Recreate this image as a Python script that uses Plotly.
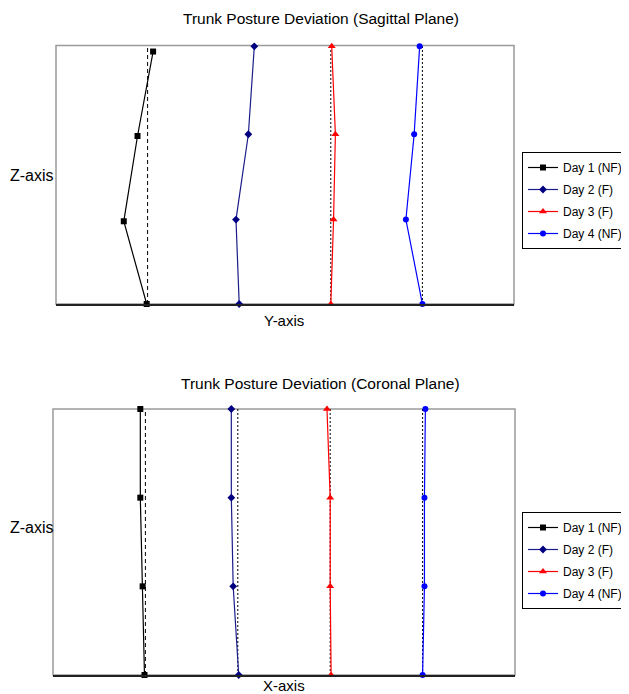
import plotly.graph_objects as go

# ---------------- data ----------------
series_names = ["Day 1 (NF)", "Day 2 (F)", "Day 3 (F)", "Day 4 (NF)"]

# Sagittal plane (top): lateral position (Y-axis) at each Z level, bottom -> top
sag_z_day1 = [0.0, 0.96, 1.95, 2.93]
sag_z = [0.0, 0.98, 1.97, 2.99]
sag_day1 = [0.99, 0.74, 0.89, 1.06]
sag_day2 = [2.00, 1.965, 2.10, 2.165]
sag_day3 = [3.00, 3.03, 3.05, 3.01]
sag_day4 = [4.00, 3.82, 3.91, 3.97]
sag_ref_x = [1, 3, 4]
sag_ref_dash = ["4px,3px", "2px,2px", "2px,2px"]

# Coronal plane (bottom)
cor_z = [0.0, 1.0, 2.0, 3.0]
cor_day1 = [0.99, 0.97, 0.945, 0.945]
cor_day2 = [2.01, 1.95, 1.93, 1.93]
cor_day3 = [3.01, 3.00, 3.00, 2.965]
cor_day4 = [4.00, 4.02, 4.02, 4.03]
cor_ref_x = [1, 2, 3, 4]
cor_ref_dash = ["4px,3px", "2px,2px", "2px,2px", "2px,2px"]

ref_z = [0, 3]
x_range = [0, 5]
z_range = [0, 3]

colors = ["#000000", "#1c1c8a", "#ff0000", "#0000ff"]
marker_colors = ["#000000", "#000080", "#ff0000", "#0000ff"]
symbols = ["square", "diamond", "triangle-up", "circle"]
msizes = [6, 6, 7, 6]

OFF = 8  # default page body margin
W, H = 629 - OFF, 694 - OFF
def px(x): return (x - OFF) / W
def py(y): return 1 - (y - OFF) / H

FONT = "Liberation Sans, Arial, sans-serif"

fig = go.Figure()

# reference lines
for rx, d in zip(sag_ref_x, sag_ref_dash):
    fig.add_trace(go.Scatter(x=[rx, rx], y=ref_z, mode="lines", xaxis="x", yaxis="y",
                             line=dict(color="black", width=1, dash=d), showlegend=False,
                             hoverinfo="skip"))
for rx, d in zip(cor_ref_x, cor_ref_dash):
    fig.add_trace(go.Scatter(x=[rx, rx], y=ref_z, mode="lines", xaxis="x2", yaxis="y2",
                             line=dict(color="black", width=1, dash=d), showlegend=False,
                             hoverinfo="skip"))

sag_x = [sag_day1, sag_day2, sag_day3, sag_day4]
sag_zs = [sag_z_day1, sag_z, sag_z, sag_z]
cor_x = [cor_day1, cor_day2, cor_day3, cor_day4]

for i in range(4):
    fig.add_trace(go.Scatter(
        x=sag_x[i], y=sag_zs[i], mode="lines+markers", name=series_names[i],
        xaxis="x", yaxis="y", legend="legend", legendgroup=f"s{i}", cliponaxis=False,
        line=dict(color=colors[i], width=1.2),
        marker=dict(symbol=symbols[i], size=msizes[i], color=marker_colors[i])))
for i in range(4):
    fig.add_trace(go.Scatter(
        x=cor_x[i], y=cor_z, mode="lines+markers", name=series_names[i],
        xaxis="x2", yaxis="y2", legend="legend2", legendgroup=f"c{i}", cliponaxis=False,
        line=dict(color=colors[i], width=1.2),
        marker=dict(symbol=symbols[i], size=msizes[i], color=marker_colors[i])))

axis_common = dict(showticklabels=False, ticks="", showgrid=False, zeroline=False)
xa = dict(axis_common, range=x_range, showline=True, linecolor="#222222", linewidth=1.5)
ya = dict(axis_common, range=z_range, showline=False)

legend_common = dict(bgcolor="white", bordercolor="black", borderwidth=1,
                     font=dict(family=FONT, size=12, color="black"),
                     xanchor="left", yanchor="top", itemwidth=30, tracegroupgap=3)

fig.update_layout(
    width=W, height=H,
    margin=dict(l=0, r=0, t=0, b=0),
    paper_bgcolor="white", plot_bgcolor="white",
    font=dict(family=FONT, color="black"),
    xaxis=dict(xa, domain=[px(56), px(514)], anchor="y"),
    yaxis=dict(ya, domain=[py(304), py(45.5)], anchor="x"),
    xaxis2=dict(xa, domain=[px(53), px(515)], anchor="y2"),
    yaxis2=dict(ya, domain=[py(675), py(409)], anchor="x2"),
    legend=dict(legend_common, x=px(522), y=py(152)),
    legend2=dict(legend_common, x=px(522), y=py(512)),
    shapes=[
        dict(type="rect", xref="x domain", yref="y domain", x0=0, x1=1, y0=0, y1=1,
             line=dict(color="#9a9a9a", width=1.5), layer="below"),
        dict(type="rect", xref="x2 domain", yref="y2 domain", x0=0, x1=1, y0=0, y1=1,
             line=dict(color="#9a9a9a", width=1.5), layer="below"),
    ],
    annotations=[
        dict(text="Trunk Posture Deviation (Sagittal Plane)", x=px(321), y=py(18),
             xref="paper", yref="paper", showarrow=False, font=dict(size=15.5),
             xanchor="center", yanchor="middle"),
        dict(text="Trunk Posture Deviation (Coronal Plane)", x=px(320), y=py(383),
             xref="paper", yref="paper", showarrow=False, font=dict(size=15.5),
             xanchor="center", yanchor="middle"),
        dict(text="Y-axis", x=px(284), y=py(320), xref="paper", yref="paper",
             showarrow=False, font=dict(size=15), xanchor="center", yanchor="middle"),
        dict(text="X-axis", x=px(284), y=py(685), xref="paper", yref="paper",
             showarrow=False, font=dict(size=15), xanchor="center", yanchor="middle"),
        dict(text="Z-axis", x=px(8), y=py(175), xref="paper", yref="paper",
             showarrow=False, font=dict(size=16), xanchor="left", yanchor="middle"),
        dict(text="Z-axis", x=px(8), y=py(527), xref="paper", yref="paper",
             showarrow=False, font=dict(size=16), xanchor="left", yanchor="middle"),
    ],
)

fig.write_html("out.html")
